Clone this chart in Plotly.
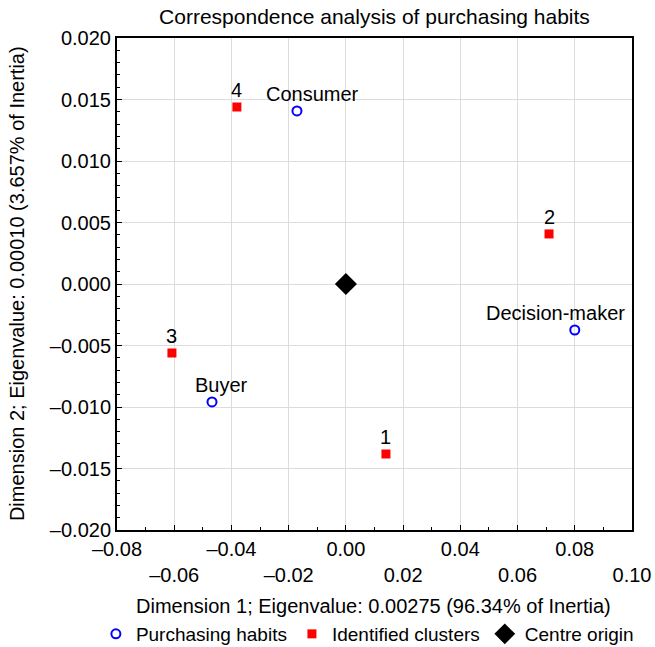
import plotly.graph_objects as go

# Data
habit_names = ["Consumer", "Decision-maker", "Buyer"]
habit_x = [-0.0171, 0.0800, -0.0468]
habit_y = [0.01407, -0.00374, -0.00959]

cluster_names = ["1", "2", "3", "4"]
cluster_x = [0.0140, 0.0710, -0.0608, -0.0381]
cluster_y = [-0.01382, 0.00407, -0.00561, 0.01439]

centre_x = [0.0]
centre_y = [0.0]

x_tick_vals = [-0.08, -0.06, -0.04, -0.02, 0.00, 0.02, 0.04, 0.06, 0.08, 0.10]
y_tick_vals = [0.020, 0.015, 0.010, 0.005, 0.000, -0.005, -0.010, -0.015, -0.020]

x_title = "Dimension 1; Eigenvalue: 0.00275 (96.34% of Inertia)"
y_title = "Dimension 2; Eigenvalue: 0.00010 (3.657% of Inertia)"
chart_title = "Correspondence analysis of purchasing habits"

FONT = "Liberation Sans, Arial, Helvetica, sans-serif"

def fmt(v, nd):
    s = f"{abs(v):.{nd}f}"
    return ("\u2013" + s) if v < 0 else s

x_tick_text = [fmt(v, 2) if i % 2 == 0 else "<br>" + fmt(v, 2) for i, v in enumerate(x_tick_vals)]
y_tick_text = [fmt(v, 3) for v in y_tick_vals]

fig = go.Figure()
fig.add_trace(go.Scatter(
    x=habit_x, y=habit_y, mode="markers", name="Purchasing habits",
    marker=dict(symbol="circle-open", size=9, color="#0000ff", line=dict(width=2, color="#0000ff")),
))
fig.add_trace(go.Scatter(
    x=cluster_x, y=cluster_y, mode="markers", name="Identified clusters",
    marker=dict(symbol="square", size=9, color="#ff0000"),
))
fig.add_trace(go.Scatter(
    x=centre_x, y=centre_y, mode="markers", name="Centre origin",
    marker=dict(symbol="diamond", size=17, color="#000000"),
))

# point labels (label horizontal offsets in px as style)
habit_label_shift = [16, -19, 10]
cluster_label_shift = [0, 0, 0, 0]
for name, x, y, sh in zip(habit_names, habit_x, habit_y, habit_label_shift):
    fig.add_annotation(x=x, y=y, text=name, showarrow=False, xshift=sh, yshift=17,
                       font=dict(size=20, color="black", family=FONT))
for name, x, y, sh in zip(cluster_names, cluster_x, cluster_y, cluster_label_shift):
    fig.add_annotation(x=x, y=y, text=name, showarrow=False, xshift=sh, yshift=17,
                       font=dict(size=20, color="black", family=FONT))

# axis titles
fig.add_annotation(xref="paper", yref="paper", x=0.499, y=-0.1545, text=x_title,
                   showarrow=False, xanchor="center", yanchor="middle",
                   font=dict(size=20, color="black", family=FONT))
fig.add_annotation(xref="paper", yref="paper", x=-0.194, y=0.5, text=y_title,
                   showarrow=False, xanchor="center", yanchor="middle", textangle=-90,
                   font=dict(size=20, color="black", family=FONT))

fig.update_layout(
    width=655, height=647,
    margin=dict(l=117, r=23, t=38, b=117, autoexpand=False),
    paper_bgcolor="white", plot_bgcolor="white",
    font=dict(family=FONT, size=20, color="black"),
    title=dict(text=chart_title, xref="paper", x=0.5, xanchor="center",
               yref="container", y=0.974, yanchor="middle", font=dict(size=21)),
    showlegend=True,
    legend=dict(orientation="h", x=-0.041, xanchor="left", y=-0.2114, yanchor="middle",
                font=dict(size=19), itemwidth=30, tracegroupgap=0),
)
fig.update_xaxes(
    range=[-0.08, 0.10], tickmode="array", tickvals=x_tick_vals, ticktext=x_tick_text,
    showgrid=True, gridcolor="#dcdcdc", gridwidth=1, zeroline=False,
    showline=True, linecolor="black", linewidth=2, mirror=True,
    ticks="inside", ticklen=5, tickcolor="black", automargin=False,
    minor=dict(dtick=0.01, ticks="inside", ticklen=3, tickcolor="black", showgrid=False),
    tickfont=dict(size=20),
)
fig.update_yaxes(
    range=[-0.020, 0.020], tickmode="array", tickvals=y_tick_vals, ticktext=y_tick_text,
    showgrid=True, gridcolor="#dcdcdc", gridwidth=1, zeroline=False,
    showline=True, linecolor="black", linewidth=2, mirror=True,
    ticks="inside", ticklen=5, tickcolor="black", automargin=False,
    minor=dict(dtick=0.001, ticks="inside", ticklen=3, tickcolor="black", showgrid=False),
    tickfont=dict(size=20),
)

fig.write_html("out.html")
